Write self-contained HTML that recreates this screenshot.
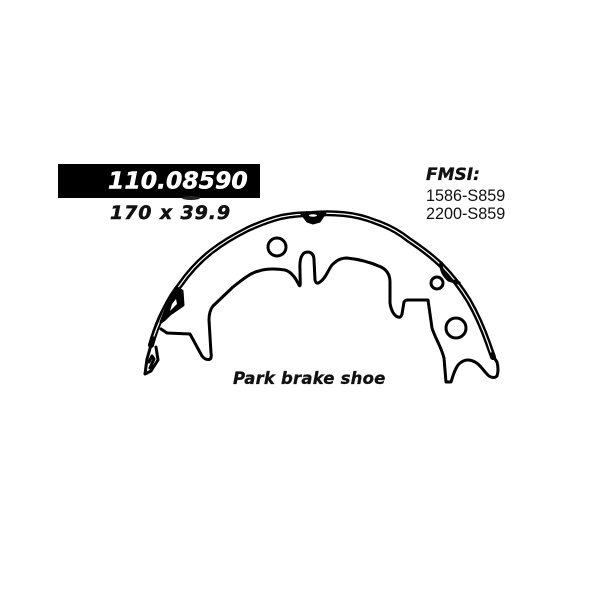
<!DOCTYPE html>
<html><head><meta charset="utf-8"><style>
html,body{margin:0;padding:0;background:#fff}
svg{display:block}
text{font-family:"DejaVu Sans",sans-serif;font-weight:bold;font-style:italic}
.l{font-family:"Liberation Sans",sans-serif;font-weight:normal;font-style:normal;font-size:16.2px;fill:#111}
</style></head><body>
<svg width="600" height="600" viewBox="0 0 600 600" xmlns="http://www.w3.org/2000/svg">
<rect x="58" y="164" width="202" height="34" fill="#000"/>
<ellipse cx="191" cy="198" rx="9" ry="2" fill="#222"/>
<text x="108" y="188.500" font-size="23.5" fill="#fff" stroke="#fff" stroke-width=".5">110.08590</text>
<text x="110" y="219" font-size="19" letter-spacing=".9" fill="#111" stroke="#111" stroke-width=".5">170 x 39.9</text>
<text x="426" y="180" font-size="17" fill="#111" stroke="#111" stroke-width=".3">FMSI:</text>
<text class="l" x="426" y="201">1586-S859</text>
<text class="l" x="426" y="219">2200-S859</text>
<text x="233" y="384" font-size="16.5" letter-spacing=".2" fill="#111" stroke="#111" stroke-width=".3">Park brake shoe</text>
<g fill="none" stroke-linejoin="round" stroke-linecap="round">
<path stroke="#000" stroke-width="6" d="M151 345C155 331 159 320 165 309C170 299 175 291 180 285C189 272 199 261 212 251C225 241 236 235 248 229C259 224 269 220 281 217C291 215 301 214 312 214C322 213 333 213 343 214C355 215 366 218 376 222C388 226 399 232 409 240C421 248 432 256 442 266C452 276 461 288 469 301C477 315 483 329 488 343L493 357"/>
<path stroke="#fff" stroke-width="1.2" d="M154 336C157 327 161 318 165 309C170 299 175 291 180 285C189 272 199 261 212 251C225 241 236 235 248 229C259 224 269 220 281 217C291 215 301 214 312 214C322 213 333 213 343 214C355 215 366 218 376 222C388 226 399 232 409 240C421 248 432 256 442 266C452 276 461 288 469 301C477 315 483 329 488 343L491 352"/>
<!-- left end -->
<path stroke="#000" stroke-width="3" d="M151 345L147 359L145 374L151 371L158 360L156 347M149 362L152 356L154 359L150 368"/>
<path fill="#000" stroke="#000" stroke-width="3" d="M177 288L182 291L183 305L170 314L165 319L161 322L166 309Z"/>
<path fill="#fff" stroke="none" d="M176 299L177 304L170 311L172 304Z"/>
<!-- top centre bulge -->
<path fill="#000" stroke="#000" d="M300 213L326 213L320 222L313 224L307 222Z"/>
<ellipse cx="313" cy="215.500" rx="4" ry="1.300" fill="#fff"/>
<!-- right lug -->
<path stroke="#000" stroke-width="3.4" d="M441 263C441 270 444 276 449 280L459 283"/>
<!-- web -->
<path stroke="#000" stroke-width="3" d="M161 329L167 333L190 334L202 356Q205 360 209 359.500Q212 359 211 353L209 320Q209 311 213 306L233 287C243 279 252 272 259 271C268 268 278 269 285 270C292 272 296 279 299 285C301 288 300 281 300 270Q299 253 307 252Q314 252 314 260L315 280Q316 285 320 282C326 278 328 270 332 265C337 260 341 258 347 258C357 259 370 262 381 267C387 270 390 275 390 282L390 303C391 310 394 316 398 317Q401 318 402 314L404 302Q405 300 408 300L428 300L432 328C435 338 441 346 444 358L446 382L451 382C453 376 455 368 459 364C464 359 470 359 475 362C481 365 484 372 489 376Q494 379 497 376Q499 370 497 362L493 356"/>
</g>
<g fill="none" stroke="#000">
<circle cx="277" cy="247" r="9" stroke-width="3"/>
<circle cx="437" cy="283" r="6" stroke-width="3"/>
<circle cx="456" cy="328" r="10" stroke-width="3"/>
</g>
</svg>
</body></html>
